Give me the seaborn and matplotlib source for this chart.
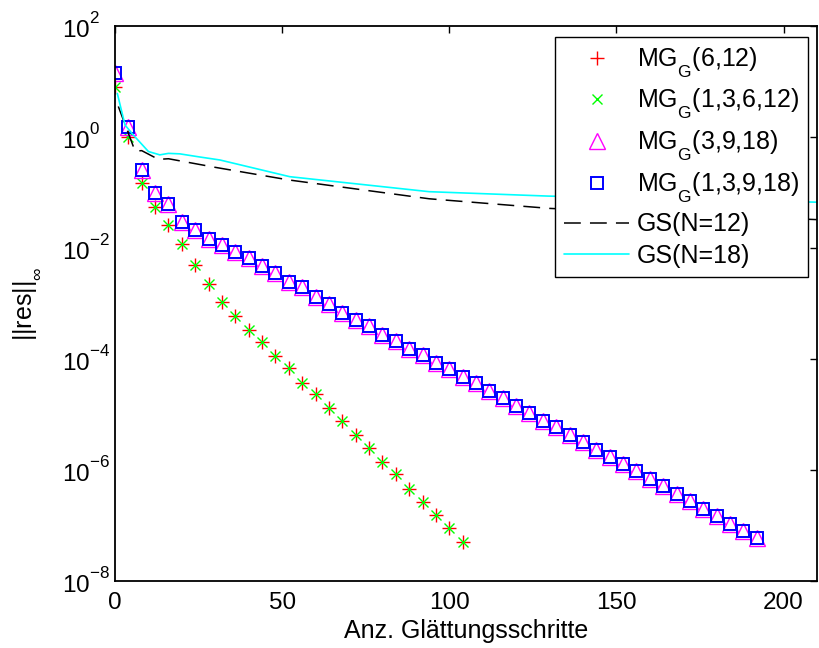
import matplotlib
matplotlib.use("Agg")
import matplotlib.pyplot as plt
import seaborn as sns
from matplotlib.ticker import NullLocator, FixedLocator

# ---------------- data ----------------
steps_a = [0, 4, 8, 12, 16, 20, 24, 28, 32, 36, 40, 44, 48, 52, 56, 60,
           64, 68, 72, 76, 80, 84, 88, 92, 96, 100, 104]
mg_6_12 = [7.8, 1.0, 0.148, 0.0537, 0.0251, 0.0115, 4.8e-3, 2.2e-3, 1.07e-3,
           5.9e-4, 3.3e-4, 2.0e-4, 1.1e-4, 6.8e-5, 3.7e-5, 2.3e-5, 1.3e-5,
           7.6e-6, 4.3e-6, 2.5e-6, 1.4e-6, 8.3e-7, 4.5e-7, 2.6e-7, 1.5e-7,
           8.9e-8, 4.9e-8]
mg_1_3_6_12 = [7.8, 1.0, 0.148, 0.0537, 0.0251, 0.0115, 4.8e-3, 2.2e-3, 1.07e-3,
               5.9e-4, 3.3e-4, 2.0e-4, 1.1e-4, 6.8e-5, 3.7e-5, 2.3e-5, 1.3e-5,
               7.6e-6, 4.3e-6, 2.5e-6, 1.4e-6, 8.3e-7, 4.5e-7, 2.6e-7, 1.5e-7,
               8.9e-8, 4.9e-8]

steps_b = [0, 4, 8, 12, 16, 20, 24, 28, 32, 36, 40, 44, 48, 52, 56, 60,
           64, 68, 72, 76, 80, 84, 88, 92, 96, 100, 104, 108, 112, 116, 120,
           124, 128, 132, 136, 140, 144, 148, 152, 156, 160, 164, 168, 172,
           176, 180, 184, 188, 192]
mg_3_9_18 = [14.1, 1.48, 0.25, 0.095, 0.060, 0.0295, 0.0204, 0.0141, 0.011,
             8.3e-3, 6.5e-3, 4.6e-3, 3.5e-3, 2.45e-3, 1.95e-3, 1.29e-3, 9.5e-4,
             6.6e-4, 5.0e-4, 3.8e-4, 2.7e-4, 2.1e-4, 1.48e-4, 1.17e-4, 8.3e-5,
             6.5e-5, 4.6e-5, 3.6e-5, 2.6e-5, 1.95e-5, 1.41e-5, 1.07e-5, 7.6e-6,
             5.8e-6, 4.2e-6, 3.2e-6, 2.24e-6, 1.7e-6, 1.26e-6, 9.5e-7, 6.8e-7,
             5.1e-7, 3.6e-7, 2.75e-7, 1.95e-7, 1.48e-7, 1.05e-7, 7.9e-8, 5.8e-8]
mg_1_3_9_18 = [14.1, 1.48, 0.25, 0.095, 0.060, 0.0295, 0.0204, 0.0141, 0.011,
               8.3e-3, 6.5e-3, 4.6e-3, 3.5e-3, 2.45e-3, 1.95e-3, 1.29e-3, 9.5e-4,
               6.6e-4, 5.0e-4, 3.8e-4, 2.7e-4, 2.1e-4, 1.48e-4, 1.17e-4, 8.3e-5,
               6.5e-5, 4.6e-5, 3.6e-5, 2.6e-5, 1.95e-5, 1.41e-5, 1.07e-5, 7.6e-6,
               5.8e-6, 4.2e-6, 3.2e-6, 2.24e-6, 1.7e-6, 1.26e-6, 9.5e-7, 6.8e-7,
               5.1e-7, 3.6e-7, 2.75e-7, 1.95e-7, 1.48e-7, 1.05e-7, 7.9e-8, 5.8e-8]

gs12_steps = [1, 6, 8, 13, 16, 30, 52, 94, 130, 170, 210]
gs12 = [3.5, 0.55, 0.56, 0.39, 0.40, 0.28, 0.166, 0.076, 0.051, 0.040, 0.032]

gs18_steps = [0.7, 3, 5.5, 10, 13.4, 16, 19.4, 25.4, 31.4, 52.3, 94, 129.5, 170, 210]
gs18 = [6.0, 1.62, 1.07, 0.54, 0.47, 0.50, 0.49, 0.43, 0.38, 0.19, 0.102, 0.085,
        0.075, 0.066]

series_labels = ["MG$_{G}$(6,12)", "MG$_{G}$(1,3,6,12)", "MG$_{G}$(3,9,18)",
                 "MG$_{G}$(1,3,9,18)", "GS(N=12)", "GS(N=18)"]
x_ticks = [0, 50, 100, 150, 200]
y_ticks = [1e-8, 1e-6, 1e-4, 1e-2, 1e0, 1e2]
x_label = "Anz. Glättungsschritte"
y_label = "||res||$_{\\infty}$"

# ---------------- style ----------------
sns.set_theme(style="white")
plt.rcParams["font.family"] = ["Liberation Sans", "DejaVu Sans"]
plt.rcParams.update({
    "mathtext.fontset": "custom",
    "mathtext.rm": "Liberation Sans",
    "mathtext.it": "Liberation Sans:italic",
    "mathtext.bf": "Liberation Sans:bold",
    "mathtext.default": "regular",
    "text.color": "black",
    "axes.labelcolor": "black",
    "xtick.color": "black",
    "ytick.color": "black",
    "axes.edgecolor": "black",
})
# MATLAB-like placement of super-/subscripts (higher superscripts, lower subscripts)
try:
    import matplotlib._mathtext as _mt
    _mt.FontConstantsBase.sup1 = 1.15
    _mt.FontConstantsBase.sub1 = 0.8
except Exception:
    pass

FS_TICK = 17.5
FS = 18
fig = plt.figure(figsize=(8.19, 6.48), dpi=100)
ax = fig.add_axes([0.1404, 0.1039, 0.8571, 0.8565])

sns.lineplot(x=steps_a, y=mg_6_12, ax=ax, color="red", marker="+", linestyle="",
             markersize=10, markeredgewidth=1.0, markeredgecolor="red",
             label=series_labels[0])
sns.lineplot(x=steps_a, y=mg_1_3_6_12, ax=ax, color="#00ff00", marker="x", linestyle="",
             markersize=7.5, markeredgewidth=1.0, markeredgecolor="#00ff00",
             label=series_labels[1])
sns.lineplot(x=steps_b, y=mg_3_9_18, ax=ax, color="magenta", marker="^", linestyle="",
             markersize=11, markeredgewidth=1.0, markeredgecolor="magenta",
             markerfacecolor="none", label=series_labels[2])
sns.lineplot(x=steps_b, y=mg_1_3_9_18, ax=ax, color="blue", marker="s", linestyle="",
             markersize=9, markeredgewidth=1.4, markeredgecolor="blue",
             markerfacecolor="none", label=series_labels[3])
sns.lineplot(x=gs12_steps, y=gs12, ax=ax, color="black", linewidth=1.1,
             linestyle=(0, (11, 6)), label=series_labels[4])
sns.lineplot(x=gs18_steps, y=gs18, ax=ax, color="cyan", linewidth=1.2,
             label=series_labels[5])

ax.set_yscale("log")
ax.set_xlim(0, 210)
ax.set_ylim(1e-8, 1e2)
ax.xaxis.set_major_locator(FixedLocator(x_ticks))
ax.yaxis.set_major_locator(FixedLocator(y_ticks))
ax.yaxis.set_minor_locator(NullLocator())
ax.xaxis.set_minor_locator(NullLocator())
ax.tick_params(which="major", direction="in", length=5, width=1.0,
               top=True, right=True, labelsize=FS_TICK)
ax.tick_params(axis="x", pad=8.5)
ax.tick_params(axis="y", pad=38.5)
for lab in ax.get_yticklabels():
    lab.set_horizontalalignment("left")
for sp in ax.spines.values():
    sp.set_visible(True)
    sp.set_color("black")
    sp.set_linewidth(1.3)

ax.set_xlabel(x_label, fontsize=FS, labelpad=3)
ax.set_ylabel(y_label, fontsize=FS)
ax.yaxis.set_label_coords(-0.104, 0.5)

leg = ax.legend(loc="upper right", bbox_to_anchor=(0.987, 0.980), frameon=True,
                fancybox=False, edgecolor="black", framealpha=1, fontsize=FS,
                handlelength=2.6, handletextpad=0.3, borderpad=0.35,
                labelspacing=0.3, borderaxespad=0, numpoints=1)
leg.get_frame().set_linewidth(1.0)

fig.savefig("out.png", dpi=100)
